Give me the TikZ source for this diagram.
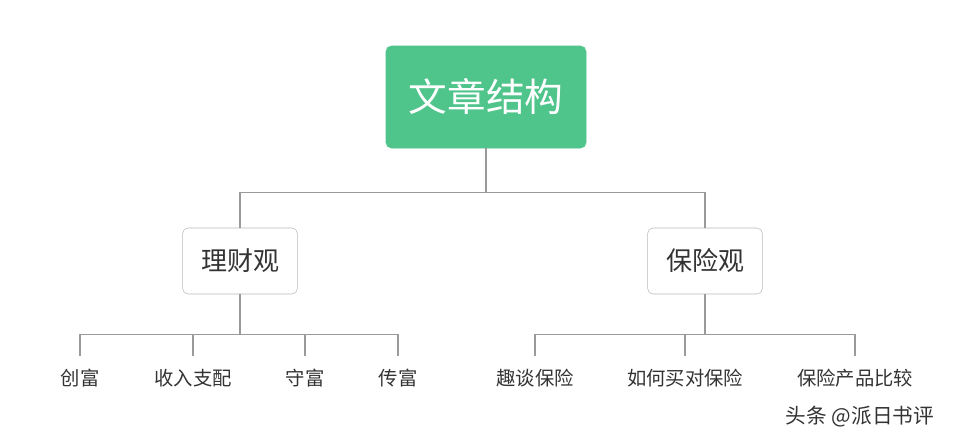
\documentclass[tikz,border=0pt]{standalone}
\usepackage{fontspec}
\setmainfont{Noto Sans CJK SC}
\usetikzlibrary{positioning}
\definecolor{rootgreen}{HTML}{4FC48B}
\definecolor{linegray}{HTML}{9A9A9A}
\definecolor{textgray}{HTML}{333333}
\tikzset{
    rootbox/.style = {draw=rootgreen, fill=rootgreen, rounded corners=4pt, text=white,
    minimum width=150pt, minimum height=76.5pt, font=\fontsize{29}{32}\selectfont},
    midbox/.style = {draw=linegray!70, fill=white, rounded corners=4pt, text=textgray,
    minimum width=86pt, minimum height=49.5pt, font=\fontsize{19.5}{22}\selectfont},
    leaf/.style = {text=textgray, font=\fontsize{14.5}{17}\selectfont},
    conn/.style = {draw=linegray, line width=0.9pt}
}
\begin{document}
\begin{tikzpicture}[x=0.75pt, y=-0.75pt]
    \useasboundingbox (0,0) rectangle (978,444);
    \node[rootbox] (root) at (486,97) {文章结构};
    \node[midbox] (money) at (240,261) {理财观};
    \node[midbox] (insure) at (705,261) {保险观};
    % leaves
    \node[leaf] (l1) at (80,378) {创富};
    \node[leaf] (l2) at (193,378) {收入支配};
    \node[leaf] (l3) at (305,378) {守富};
    \node[leaf] (l4) at (398,378) {传富};
    \node[leaf] (r1) at (535,378) {趣谈保险};
    \node[leaf] (r2) at (685,378) {如何买对保险};
    \node[leaf] (r3) at (855,378) {保险产品比较};
    \node[text=textgray, font=\fontsize{15.5}{18}\selectfont] (mark) at (860,417) {头条 @派日书评};
    % connectors
    \draw[conn] (root.south) -- ++(0,44) -| (money.north);
    \draw[conn] (root.south) -- ++(0,44) -| (insure.north);
    \foreach \n in {l1,l2,l3,l4}
        \draw[conn] (money.south) -- ++(0,40) -| ([yshift=6pt]\n.north);
    \foreach \n in {r1,r2,r3}
        \draw[conn] (insure.south) -- ++(0,40) -| ([yshift=6pt]\n.north);
\end{tikzpicture}
\end{document}
